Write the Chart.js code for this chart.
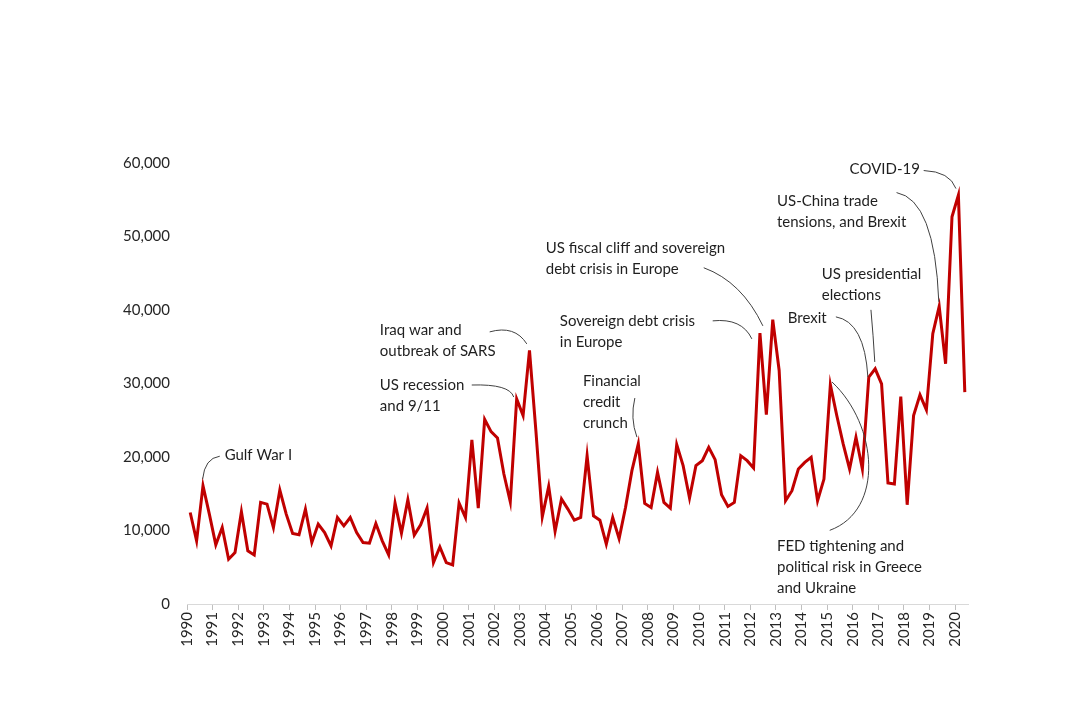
<!DOCTYPE html>
<html>
<head>
<meta charset="utf-8">
<script src="https://cdn.jsdelivr.net/npm/chart.js@4/dist/chart.umd.min.js"></script>
<style>
  html, body { margin: 0; padding: 0; background: #ffffff; }
  canvas { display: block; }
</style>
</head>
<body>
<canvas id="c" width="1088" height="715"></canvas>
<script>
// Quarterly values, 1990 Q1 .. 2020 Q2
const startYear = 1990;
const quarterValues = [
  12450, 8590, 16090, 12200, 8050, 10400, 6090, 7000, 12550, 7230,
  6680, 13820, 13590, 10400, 15500, 12230, 9590, 9410, 12910, 8360,
  10870, 9730, 7910, 11770, 10640, 11770, 9730, 8360, 8270, 10950,
  8590, 6680, 13730, 9640, 14180, 9370, 10770, 13050, 5630, 7770,
  5630, 5320, 13730, 11770, 22320, 13050, 25130, 23450, 22600, 17690,
  13910, 27910, 25640, 34500, 23590, 11860, 16000, 9900, 14280, 12910,
  11410, 11770, 20180, 12000, 11410, 8140, 11770, 8900, 13130, 18140,
  21780, 13680, 13130, 17910, 13820, 13050, 21680, 18820, 14410, 18820,
  19500, 21320, 19640, 14860, 13270, 13820, 20180, 19500, 18500, 36860,
  25770, 38690, 31770, 14050, 15410, 18370, 19270, 19950, 14050, 17000,
  29820, 25640, 21780, 18370, 22690, 18370, 30860, 32000, 29960, 16460,
  16320, 28230, 13500, 25640, 28460, 26410, 36770, 40500, 32680, 52680,
  55640, 28820
];
const yearTicks = [];
for (let y = 1990; y <= 2020; y++) yearTicks.push(y);
const yTickValues = [0, 10000, 20000, 30000, 40000, 50000, 60000];

// Annotations (text anchors and leader curves in data coordinates: [year, value])
const annotations = [
  { lines: ['Gulf War I'], at: [1991.47, 20250], align: 'left',
    curve: [[1991.28, 20110], [1990.69, 19840], [1990.61, 16980]] },
  { lines: ['Iraq war and', 'outbreak of SARS'], at: [1997.53, 37295], align: 'left',
    curve: [[2001.82, 37023], [2002.80, 37977], [2003.27, 35387]] },
  { lines: ['US recession', 'and 9/11'], at: [1997.53, 29795], align: 'left',
    curve: [[2001.12, 29795], [2002.60, 29950], [2002.76, 28159]] },
  { lines: ['Financial', 'credit', 'crunch'], at: [2005.46, 30340], align: 'left',
    curve: [[2007.49, 28022], [2007.30, 25295], [2007.57, 22704]] },
  { lines: ['Sovereign debt crisis', 'in Europe'], at: [2004.56, 38522], align: 'left',
    curve: [[2010.53, 38522], [2011.67, 38931], [2012.06, 36068]] },
  { lines: ['US fiscal cliff and sovereign', 'debt crisis in Europe'], at: [2004.01, 48478], align: 'left',
    curve: [[2010.18, 45750], [2011.67, 43840], [2012.49, 37840]] },
  { lines: ['Brexit'], at: [2013.46, 38930], align: 'left',
    curve: [[2015.34, 39067], [2016.46, 38385], [2016.59, 30885]] },
  { lines: ['US presidential', 'elections'], at: [2014.79, 44932], align: 'left',
    curve: [[2016.71, 40022], [2016.80, 36500], [2016.86, 32931]] },
  { lines: ['US-China trade', 'tensions, and Brexit'], at: [2013.04, 54750], align: 'left',
    curve: [[2017.71, 55975], [2019.20, 55020], [2019.36, 41113]] },
  { lines: ['COVID-19'], at: [2018.62, 59180], align: 'right',
    curve: [[2018.77, 58976], [2019.79, 58840], [2020.03, 56522]] },
  { lines: ['FED tightening and', 'political risk in Greece', 'and Ukraine'], at: [2013.04, 7841], align: 'left',
    curve: [[2015.19, 30205], [2016.98, 24340], [2017.25, 12750], [2015.10, 10022]] }
];

const points = quarterValues.map((v, i) => ({ x: startYear + (i + 0.5) / 4, y: v }));

const annotationPlugin = {
  id: 'notes',
  afterDatasetsDraw(chart) {
    const ctx = chart.ctx;
    const xs = chart.scales.x, ys = chart.scales.y;
    const P = (p) => [xs.getPixelForValue(p[0]), ys.getPixelForValue(p[1])];
    ctx.save();
    ctx.font = '15px Lato';
    ctx.fillStyle = '#1f1f1f';
    ctx.strokeStyle = '#404040';
    ctx.lineWidth = 1;
    annotations.forEach(a => {
      const [tx, ty] = P(a.at);
      ctx.textAlign = a.align;
      ctx.textBaseline = 'middle';
      a.lines.forEach((ln, k) => ctx.fillText(ln, tx, ty + k * 21));
      const c = a.curve.map(P);
      ctx.beginPath();
      ctx.moveTo(c[0][0], c[0][1]);
      if (c.length === 3) ctx.quadraticCurveTo(c[1][0], c[1][1], c[2][0], c[2][1]);
      else ctx.bezierCurveTo(c[1][0], c[1][1], c[2][0], c[2][1], c[3][0], c[3][1]);
      ctx.stroke();
    });
    ctx.restore();
  }
};

Chart.defaults.font.family = 'Lato';
Chart.defaults.font.size = 15;
Chart.defaults.color = '#262626';

new Chart(document.getElementById('c'), {
  type: 'line',
  data: {
    datasets: [{
      data: points,
      borderColor: '#c00000',
      borderWidth: 3,
      pointRadius: 0,
      tension: 0,
      fill: false,
      borderJoinStyle: 'miter'
    }]
  },
  options: {
    responsive: false,
    animation: false,
    layout: { padding: { top: 163, left: 0, right: 120, bottom: 0 } },
    plugins: { legend: { display: false }, tooltip: { enabled: false } },
    scales: {
      x: {
        type: 'linear',
        min: yearTicks[0],
        max: yearTicks[yearTicks.length - 1] + 0.5,
        afterFit: (s) => { s.height = 111; },
        afterBuildTicks: (s) => { s.ticks = yearTicks.map(v => ({ value: v })); },
        ticks: {
          autoSkip: false,
          includeBounds: false,
          maxRotation: 90,
          minRotation: 90,
          padding: 2,
          color: '#262626',
          font: { size: 15 },
          callback: (v) => String(v)
        },
        grid: { display: true, drawOnChartArea: false, drawTicks: true, tickLength: 6, color: '#bfbfbf' },
        border: { display: true, color: '#d9d9d9', width: 1 }
      },
      y: {
        min: 0,
        max: 60000,
        afterFit: (s) => { s.width = 187; },
        afterBuildTicks: (s) => { s.ticks = yTickValues.map(v => ({ value: v })); },
        ticks: {
          padding: 17,
          color: '#262626',
          font: { size: 15 },
          callback: (v) => v.toLocaleString('en-US')
        },
        grid: { display: false, drawTicks: false },
        border: { display: false }
      }
    }
  },
  plugins: [annotationPlugin]
});
</script>
</body>
</html>
